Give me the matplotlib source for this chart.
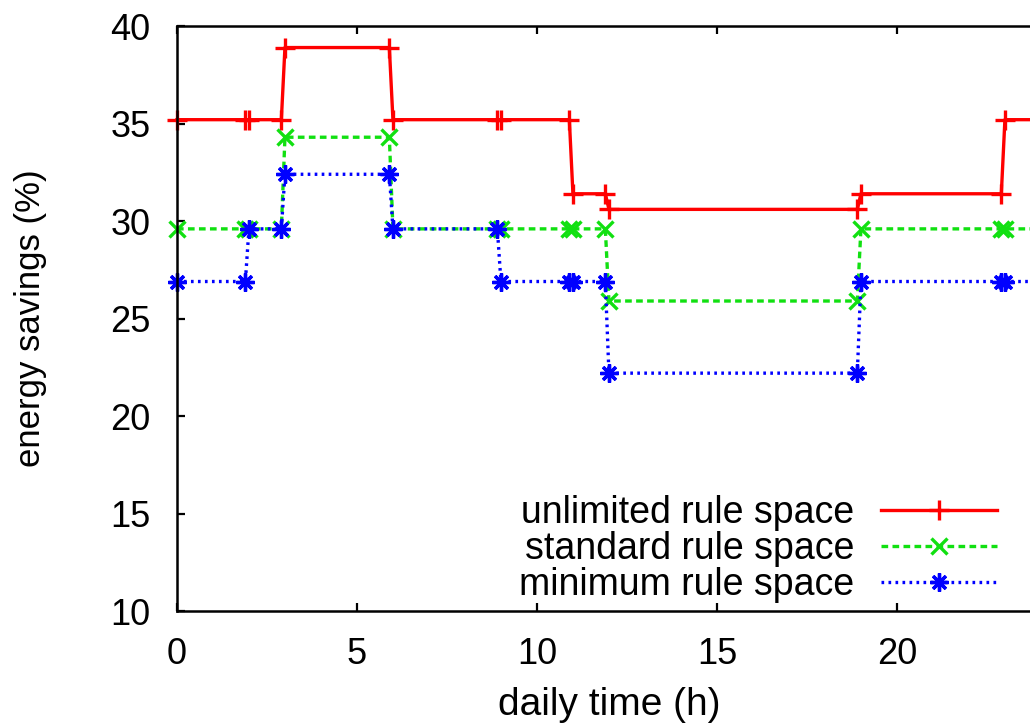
import matplotlib.pyplot as plt

plt.rcParams['font.family'] = ['Liberation Sans', 'DejaVu Sans']

# hours where the rule space configuration changes (last one = end of day)
hours = [0, 2, 3, 6, 9, 11, 12, 19, 23, 24]

# savings (%) for each interval between the hours above
unlimited = [35.2, 35.2, 38.9, 35.2, 35.2, 31.4, 30.6, 31.4, 35.2]
standard = [29.6, 29.6, 34.3, 29.6, 29.6, 29.6, 25.9, 29.6, 29.6]
minimum = [26.9, 29.6, 32.4, 29.6, 26.9, 26.9, 22.2, 26.9, 26.9]

labels = ["unlimited rule space", "standard rule space", "minimum rule space"]


def step_points(vals):
    # each change is sampled just before and at the hour
    xs = [hours[0]]
    ys = [vals[0]]
    for i in range(1, len(hours) - 1):
        xs += [hours[i] - 0.1, hours[i]]
        ys += [vals[i - 1], vals[i]]
    xs.append(hours[-1])
    ys.append(vals[-1])
    return xs, ys


fig = plt.figure(figsize=(10.3, 7.23), dpi=100)
ax = fig.add_axes([0.1718, 0.1549, 0.8388, 0.809])

x, y = step_points(unlimited)
ax.plot(x, y, color='#ff0000', lw=2.4, marker='+', ms=14, mew=2.4,
        clip_on=False, label=labels[0])

x, y = step_points(standard)
ax.plot(x, y, color='#11e011', lw=2.4, dashes=(2, 1.3), marker='x', ms=11,
        mew=2.4, clip_on=False, label=labels[1])

x, y = step_points(minimum)
ax.plot(x, y, color='#0000ff', lw=2.4, dashes=(0.8, 1.3), marker=(8, 2, 0),
        ms=13, mew=2.4, clip_on=False, label=labels[2])

ax.set_xlim(0, 24)
ax.set_ylim(10, 40)
ax.set_xticks([0, 5, 10, 15, 20])
ax.set_yticks([10, 15, 20, 25, 30, 35, 40])
ax.tick_params(direction='in', length=6, width=1.6, labelsize=26, pad=19,
               top=True, right=True)
for s in ax.spines.values():
    s.set_linewidth(1.8)

ax.set_xlabel("daily time (h)", fontsize=28)
ax.set_ylabel("energy savings (%)", fontsize=25)
ax.xaxis.set_label_coords(0.5, -0.13)
ax.yaxis.set_label_coords(-0.15, 0.5)

ax.legend(loc='lower right', bbox_to_anchor=(0.949, 0.014), frameon=False,
          markerfirst=False, numpoints=1, fontsize=27, handlelength=3.1,
          handletextpad=0.7, labelspacing=0.0, borderaxespad=0, borderpad=0)

fig.savefig("out.png", dpi=100)
